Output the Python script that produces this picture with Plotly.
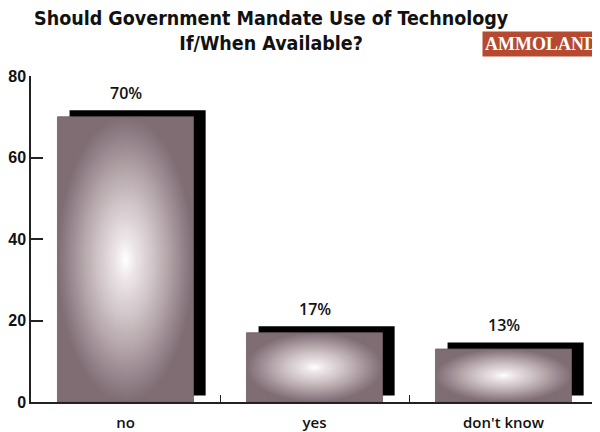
import plotly.graph_objects as go

# Survey answers and share of respondents (%)
CATEGORIES = ["no", "yes", "don't know"]
VALUES = [70, 17, 13]
LABELS = ["70%", "17%", "13%"]
Y_TICKS = [0, 20, 40, 60, 80]

TITLE = "Should Government Mandate Use of Technology<br>If/When Available?"

BAR_WIDTH = 0.72
SHADOW_DX = 0.064   # shadow offset to the right (category units)
SHADOW_DY = 1.6     # shadow offset upwards (value units)

# radial gradient: centre (0) to the mid-edges of each bar (1)
GRADIENT = [
    [0.0, "#ffffff"],
    [0.15, "#ece5e7"],
    [0.4, "#d0c5c8"],
    [0.65, "#b0a1a5"],
    [0.85, "#93828a"],
    [1.0, "#7f6d73"],
]

fig = go.Figure()

# black drop shadows
fig.add_trace(
    go.Bar(
        x=[i + SHADOW_DX for i in range(len(VALUES))],
        y=VALUES,
        base=SHADOW_DY,
        width=BAR_WIDTH,
        marker=dict(color="black", line=dict(width=0)),
        hoverinfo="skip",
        showlegend=False,
    )
)

# gradient-filled bars (one trace each so the radial gradient centres on each bar)
for i, v in enumerate(VALUES):
    x0, x1 = i - BAR_WIDTH / 2, i + BAR_WIDTH / 2
    fig.add_trace(
        go.Scatter(
            x=[x0, x1, x1, x0, x0],
            y=[0, 0, v, v, 0],
            mode="lines",
            fill="toself",
            fillgradient=dict(type="radial", colorscale=GRADIENT),
            line=dict(color="#6f5f64", width=0.8),
            hoverinfo="skip",
            showlegend=False,
        )
    )

for i, (v, lab) in enumerate(zip(VALUES, LABELS)):
    fig.add_annotation(
        x=i, y=v, text=lab, showarrow=False, yanchor="bottom", yshift=11,
        font=dict(family="Open Sans", size=16, color="#111", weight=600),
    )

# title as an annotation so both lines sit where the reference has them
fig.add_annotation(
    xref="paper", yref="paper", x=0.425, y=1.219, xanchor="center", yanchor="top",
    text=TITLE, showarrow=False,
    font=dict(family="Liberation Sans Narrow, DejaVu Sans Condensed", size=19.5,
              color="#111", weight="bold"),
)

# AMMOLAND badge
fig.add_annotation(
    xref="paper", yref="paper", x=1.004, y=1.138, xanchor="right", yanchor="top",
    text="AMMOLAND", showarrow=False, bgcolor="#b64a30", borderpad=2,
    font=dict(family="Liberation Serif", size=18, color="white", weight="bold"),
)

# the page adds an 8px body margin, so the figure is 8px smaller each way
fig.update_layout(
    width=592,
    height=424,
    margin=dict(l=23, r=2, t=68, b=30),
    plot_bgcolor="white",
    paper_bgcolor="white",
    xaxis=dict(
        range=[-0.5, 2.5],
        tickvals=list(range(len(CATEGORIES))),
        ticktext=CATEGORIES,
        ticks="",
        showgrid=False,
        zeroline=False,
        showline=True,
        linecolor="#222",
        linewidth=1.5,
        automargin=False,
        ticklabelstandoff=6,
        tickfont=dict(family="Open Sans", size=15, color="#111", weight=600),
        minor=dict(tickvals=[0.5, 1.5, 2.5], ticks="inside", ticklen=7,
                   tickwidth=1.3, tickcolor="#222", showgrid=False),
    ),
    yaxis=dict(
        range=[0, 80],
        tickvals=Y_TICKS,
        ticks="inside",
        ticklen=12,
        tickwidth=1.5,
        tickcolor="#222",
        showgrid=False,
        zeroline=False,
        showline=True,
        linecolor="#222",
        linewidth=1.5,
        automargin=False,
        ticklabelstandoff=0,
        tickfont=dict(family="Liberation Sans", size=16, color="#111", weight="bold"),
    ),
)

fig.write_html("out.html")
